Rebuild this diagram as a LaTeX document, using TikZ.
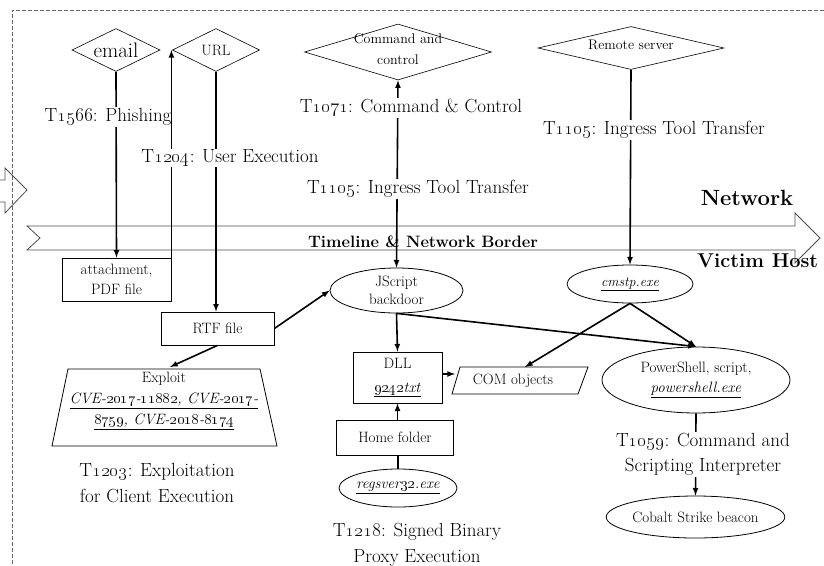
\RequirePackage{fix-cm}
\documentclass[tikz,border=0pt]{standalone}
\usepackage{tikz}
\usetikzlibrary{shapes.geometric}

\tikzset{
	gate/.style={draw, diamond, inner sep=0pt, line width=0.6pt},
	filebox/.style={draw, rectangle, inner sep=0pt, line width=0.8pt, align=center, font=\fontsize{15}{20}\selectfont},
	proc/.style={draw, ellipse, inner sep=0pt, line width=0.8pt, align=center, font=\fontsize{15}{19}\selectfont},
	tech/.style={fill=white, inner sep=1pt, align=center, font=\fontsize{19}{26}\selectfont},
	link/.style={line width=1.6pt, -latex},
	border/.style={font=\bfseries\fontsize{22}{24}\selectfont}
}
\newcommand{\exe}[1]{\underline{\textit{#1}}}

\begin{document}
\begin{tikzpicture}[x=1pt, y=-1pt]
				\useasboundingbox (0,0) rectangle (824,565);
				\clip (0,0) rectangle (824,565);
				
				\draw[black!60, line width=0.8pt, dash pattern=on 4pt off 2pt] (12,570) -- (12,10) -- (830,10);
				
				% outside: sources
				\node[gate, minimum width=88, minimum height=43] (email) at (116,50) {};
				\node[font=\fontsize{21}{24}\selectfont] (emailtxt) at (email) {email};
				\node[gate, minimum width=87, minimum height=43] (url) at (216,50) {};
				\node[font=\fontsize{15}{18}\selectfont] (urltxt) at (url) {URL};
				\node[gate, minimum width=187, minimum height=56] (cc) at (398,52) {};
				\node[font=\fontsize{14}{21}\selectfont, align=center] (cctxt) at (398,49) {Command and\\control};
				\node[gate, minimum width=186, minimum height=43] (rs) at (631,48) {};
				\node[font=\fontsize{14}{18}\selectfont] (rstxt) at (631,45) {Remote server};
				
				% timeline
				\draw[black!70, line width=0.8pt] (0,180) -- (5,180) -- (5,168) -- (27,190) -- (5,213) -- (5,202) -- (0,202);
				\draw[black!70, line width=0.8pt] (27,226) -- (795,226) -- (795,213) -- (820,238) -- (795,263) -- (795,250) -- (27,250) -- (40,238) -- cycle;
				
				% victim host
				\node[filebox, minimum width=109, minimum height=43] (att) at (116.5,279.5) {attachment,\\PDF file};
				\node[filebox, minimum width=113, minimum height=33] (rtf) at (217.5,328.5) {RTF file};
				\draw[line width=0.8pt] (68,369) -- (260,369) -- (277,446) -- (52,446) -- cycle;
				\coordinate (exploit) at (170,367);
				\node[font=\fontsize{15}{21}\selectfont, align=center] (exploittxt) at (164,401) {Exploit\\\exe{CVE-\oldstylenums{2017}-\oldstylenums{11882}, CVE-\oldstylenums{2017}-}\\\exe{\oldstylenums{8759}, CVE-\oldstylenums{2018}-\oldstylenums{8174}}};
				\node[proc, minimum width=133, minimum height=45, font=\fontsize{15}{18}\selectfont] (js) at (396.5,290.5) {JScript\\backdoor};
				\node[filebox, minimum width=89, minimum height=51, font=\fontsize{15}{24}\selectfont] (dll) at (397.5,377.5) {DLL\\\exe{\oldstylenums{9242}txt}};
				\draw[line width=0.8pt] (460,367) -- (588,367) -- (578,394) -- (452,394) -- cycle;
				\node[font=\fontsize{15}{18}\selectfont] (com) at (513,380.5) {COM objects};
				\coordinate (comtop) at (525,367);
				\coordinate (comleft) at (455,374);
				\node[proc, minimum width=126, minimum height=38, font=\fontsize{14}{18}\selectfont] (cmstp) at (630,284) {\exe{cmstp.exe}};
				\node[proc, minimum width=188, minimum height=66, font=\fontsize{15}{20}\selectfont] (ps) at (696,380) {PowerShell, script,\\\exe{powershell.exe}};
				\node[proc, minimum width=177, minimum height=42] (cobalt) at (695.5,517) {Cobalt Strike beacon};
				\node[filebox, minimum width=117, minimum height=35] (home) at (395,437.5) {Home folder};
				\node[proc, minimum width=110, minimum height=38] (regs) at (398,488) {\exe{regsver\oldstylenums{32}.exe}};
				
				% connectors
				\draw[link] (email.south) -- (att.north);
				\node[tech] (phish) at (108,117) {T\oldstylenums{1566}: Phishing};
				\draw[link] (att.east) -- (att.east |- url.west);
				\draw[link] (url.south) -- (url.south |- rtf.north);
				\draw[link] (rtf.east) -- (js.west);
				\draw[link] (rtf.south) -- (exploit);
				\draw[line width=1.6pt, latex-latex] (cc.south) -- (js.north);
				\draw[link] (rs.south) -- (cmstp.north);
				\draw[link] (js.south) -- (dll.north);
				\draw[link] (js.south) -- (ps.north);
				\draw[link] (cmstp.south) -- (comtop);
				\draw[link] (cmstp.south) -- (ps.north);
				\draw[link] (dll.east |- comleft) -- (comleft);
				\draw[link] (home.north -| dll.south) -- (dll.south);
				\draw[line width=1.6pt] (regs.north) -- (regs.north |- home.south);
				\draw[link] (ps.south) -- (cobalt.north);
				
				% techniques
				\node[tech] (userexec) at (230,158) {T\oldstylenums{1204}: User Execution};
				\node[tech] (c2) at (411,108) {T\oldstylenums{1071}: Command \& Control};
				\node[tech] (ingress) at (418,189) {T\oldstylenums{1105}: Ingress Tool Transfer};
				\node[tech] (ingressrs) at (654,130) {T\oldstylenums{1105}: Ingress Tool Transfer};
				\node[tech, fill=none] (clientexec) at (157,483.5) {T\oldstylenums{1203}: Exploitation\\for Client Execution};
				\node[tech, fill=none] (proxyexec) at (417,544.5) {T\oldstylenums{1218}: Signed Binary\\Proxy Execution};
				\node[tech, font=\fontsize{19}{25}\selectfont] (scripting) at (703,454.5) {T\oldstylenums{1059}: Command and\\Scripting Interpreter};
				
				\node[font=\bfseries\fontsize{16.5}{18}\selectfont] (timeline) at (423,242) {Timeline \& Network Border};
				\node[border] (network) at (747,198) {Network};
				\node[border, font=\bfseries\fontsize{20}{22}\selectfont, anchor=west, inner sep=0pt] (victim) at (697,261) {Victim Host};
			\end{tikzpicture}
\end{document}
